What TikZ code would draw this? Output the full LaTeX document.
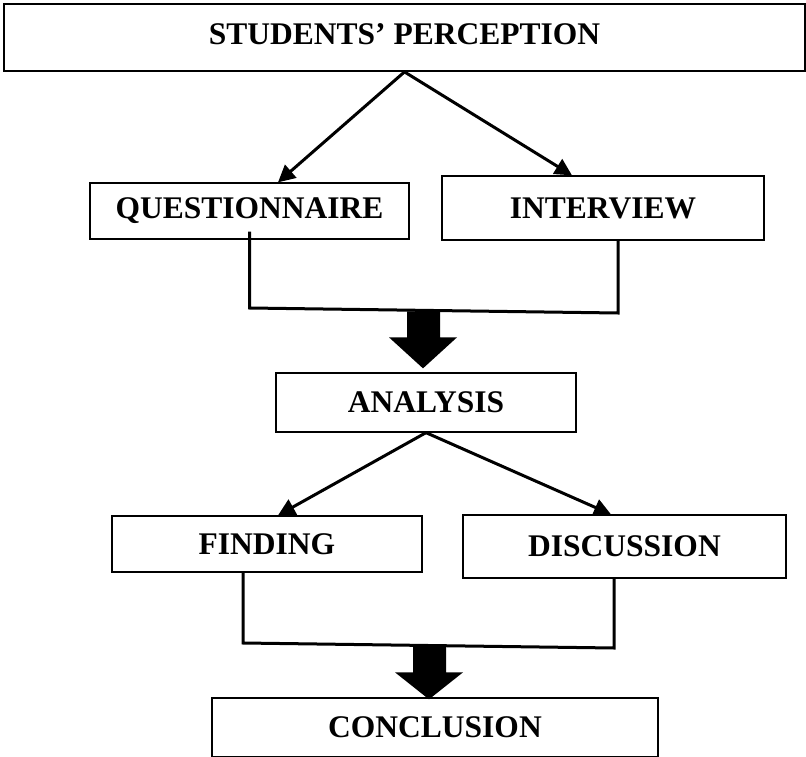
\documentclass[tikz,border=0pt]{standalone}
\usepackage{fontspec}
\setmainfont{Liberation Serif}
\usetikzlibrary{arrows.meta}

\begin{document}
\begin{tikzpicture}[
  x=1pt, y=-1pt,
  font=\fontsize{31.5}{36}\selectfont\bfseries,
  every node/.style={align=center},
  box/.style={draw, line width=1.3pt, inner sep=0pt},
  arr/.style={-{Triangle[length=17pt, width=17pt]}, line width=3pt},
  mergeline/.style={line width=3pt}
]
\useasboundingbox (0,0) rectangle (806,757);

%% ── Row 0 : Perception ────────────────────────────────────────────────────
\node[box, line width=1.8pt, minimum width=801pt, minimum height=67pt,
      text depth=7pt] (perc) at (404.5, 37.5) {STUDENTS’ PERCEPTION};

%% ── Row 1 : Instruments ───────────────────────────────────────────────────
\node[box, minimum width=319pt, minimum height=56pt] (quest) at (249.5, 211)
      {QUESTIONNAIRE};
\node[box, minimum width=322pt, minimum height=64pt] (intv)  at (603, 208)
      {INTERVIEW};

\draw[arr] (perc.south) -- ([xshift=28.5pt]quest.north);
\draw[arr] (perc.south) -- ([xshift=-31pt]intv.north);

\coordinate (qj) at (249.5, 308);
\coordinate (ij) at (618, 313);
\draw[mergeline] ([yshift=8pt]quest.south) -- (qj) -- (ij) -- (ij |- intv.south);

%% ── Row 2 : Analysis ──────────────────────────────────────────────────────
\node[box, minimum width=300pt, minimum height=59pt] (ana) at (426, 402.5)
      {ANALYSIS};

\fill ([xshift=-3pt, yshift=4pt]ana.north) -- ++(-34,-31) -- ++(18,0)
      -- ++(0,-26) -- ++(33,0) -- ++(0,26) -- ++(17,0) -- cycle;

%% ── Row 3 : Finding / Discussion ──────────────────────────────────────────
\node[box, minimum width=310pt, minimum height=56pt] (find) at (267, 544)
      {FINDING};
\node[box, minimum width=323pt, minimum height=63pt] (disc) at (624.5, 546.5)
      {DISCUSSION};

\draw[arr] (ana.south) -- ([xshift=11pt]find.north);
\draw[arr] (ana.south) -- ([xshift=-13.5pt]disc.north);

\coordinate (fj) at (243, 643);
\coordinate (dj) at (614, 648);
\draw[mergeline] (fj |- find.south) -- (fj) -- (dj) -- (dj |- disc.south);

%% ── Row 4 : Conclusion ────────────────────────────────────────────────────
\node[box, minimum width=446pt, minimum height=59pt] (concl) at (435, 727.5)
      {CONCLUSION};

\fill ([xshift=-6pt, yshift=-2pt]concl.north) -- ++(-34,-27) -- ++(18,0)
      -- ++(0,-26) -- ++(33,0) -- ++(0,26) -- ++(17,0) -- cycle;

\end{tikzpicture}
\end{document}
